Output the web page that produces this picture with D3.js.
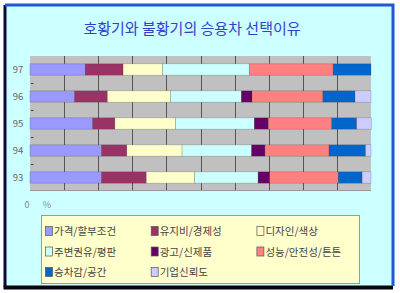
<!DOCTYPE html>
<meta charset="utf-8">
<head>
  <title>호황기와 불황기의 승용차 선택이유</title>
</head>
<body>
<style>
  html, body {
    margin: 0;
    padding: 0;
    background: #fff;
  }
  * {
    font-family: "Noto Sans CJK KR", "Noto Sans", sans-serif;
  }
  .title {
    fill: #3340cc;
    font-size: 15px;
  }
  .ylab {
    fill: #666;
    font-size: 9.5px;
  }
  .xlab {
    fill: #888;
    font-size: 9px;
  }
  .legend-text {
    fill: #444;
    font-size: 10.5px;
  }
  .grid line {
    stroke: #555;
    stroke-width: 1px;
  }
</style>
<div class="chart"></div>
<script src="https://cdn.jsdelivr.net/npm/d3@7"></script>
<script>

// categories (top to bottom) and series
var years = ["97", "96", "95", "94", "93"];
var reasons = ["가격/할부조건", "유지비/경제성", "디자인/색상", "주변권유/평판",
               "광고/신제품", "성능/안전성/튼튼", "승차감/공간", "기업신뢰도"];
var colors = ["#9999ff", "#993366", "#ffffcc", "#ccffff",
              "#660066", "#ff8080", "#0066cc", "#ccccff"];

// shares in %, one array per year, in the order of reasons
var y97 = [16.2, 11.1, 11.6, 25.4, 0.0, 24.6, 11.1, 0.0];
var y96 = [13.1, 9.6, 18.5, 20.8, 3.1, 20.8, 9.4, 4.7];
var y95 = [18.4, 6.5, 17.8, 23.1, 4.1, 18.6, 7.3, 4.3];
var y94 = [21.0, 7.4, 16.2, 20.4, 3.9, 18.8, 10.7, 1.6];
var y93 = [21.0, 13.1, 14.2, 18.6, 3.4, 20.1, 7.0, 2.6];

var xTickLabels = ["0", "%"];

var valuesByYear = {"97": y97, "96": y96, "95": y95, "94": y94, "93": y93};

var width = 400, height = 293;

var svg = d3.select(".chart").append("svg")
    .attr("width", width)
    .attr("height", height);

// frame with shadow-like border
svg.append("rect")
    .attr("x", 5).attr("y", 5)
    .attr("width", 388).attr("height", 282)
    .attr("fill", "#ccffff");
svg.append("path")
    .attr("d", "M5,287 L5,5")
    .attr("stroke", "#0a0a3a").attr("stroke-width", 3).attr("fill", "none");
svg.append("path")
    .attr("d", "M3.5,287.5 L393,287.5")
    .attr("stroke", "#050510").attr("stroke-width", 4).attr("fill", "none");
svg.append("path")
    .attr("d", "M5,5 L393,5 L393,286")
    .attr("stroke", "#1f57d6").attr("stroke-width", 3).attr("fill", "none");

svg.append("text")
    .attr("class", "title")
    .attr("x", 192)
    .attr("y", 34)
    .attr("text-anchor", "middle")
    .text("호황기와 불황기의 승용차 선택이유");

var x = d3.scaleLinear()
    .domain([0, 100])
    .range([30, 371]);

var y = d3.scaleBand()
    .domain(years)
    .range([56, 191])
    .paddingInner(0.58)
    .paddingOuter(0.29);

// plot background
svg.append("rect")
    .attr("x", x(0)).attr("y", 56)
    .attr("width", x(100) - x(0)).attr("height", 135)
    .attr("fill", "#c0c0c0");

svg.append("g")
    .attr("class", "grid")
  .selectAll("line")
    .data(d3.range(10, 100, 10))
  .enter().append("line")
    .attr("x1", function(d) { return Math.round(x(d)) + 0.5; })
    .attr("x2", function(d) { return Math.round(x(d)) + 0.5; })
    .attr("y1", 56).attr("y2", 191);

svg.append("line")
    .attr("x1", x(0)).attr("x2", x(100))
    .attr("y1", 190.5).attr("y2", 190.5)
    .attr("stroke", "#999");

// stacked bars
var rows = years.map(function(yr) {
  var r = {year: yr};
  reasons.forEach(function(k, i) { r[k] = valuesByYear[yr][i]; });
  return r;
});

var series = d3.stack().keys(reasons)(rows);

svg.append("g")
  .selectAll("g")
    .data(series)
  .enter().append("g")
    .attr("fill", function(d, i) { return colors[i]; })
  .selectAll("rect")
    .data(function(d) { return d; })
  .enter().append("rect")
    .attr("x", function(d) { return x(d[0]); })
    .attr("y", function(d) { return y(d.data.year); })
    .attr("width", function(d) { return x(d[1]) - x(d[0]); })
    .attr("height", y.bandwidth())
    .attr("stroke", "#333")
    .attr("stroke-opacity", function(d) { return d[1] - d[0] > 0 ? 0.35 : 0; })
    .attr("stroke-width", 0.6);

// y labels
svg.append("g")
  .selectAll("text")
    .data(years)
  .enter().append("text")
    .attr("class", "ylab")
    .attr("x", 18)
    .attr("y", function(d) { return y(d) + y.bandwidth() / 2 + 3.5; })
    .attr("text-anchor", "middle")
    .text(function(d) { return d; });

// small ticks between categories
svg.append("g")
  .selectAll("line")
    .data(years.slice(1))
  .enter().append("line")
    .attr("x1", 31).attr("x2", 33.5)
    .attr("y1", function(d) { return Math.round(y(d) - y.step() * 0.29) + 0.5; })
    .attr("y2", function(d) { return Math.round(y(d) - y.step() * 0.29) + 0.5; })
    .attr("stroke", "#444");

// broken x-axis labels
svg.append("g")
  .selectAll("text")
    .data(xTickLabels)
  .enter().append("text")
    .attr("class", "xlab")
    .attr("x", function(d, i) { return i === 0 ? 27 : 47; })
    .attr("y", 208)
    .attr("text-anchor", "middle")
    .text(function(d) { return d; });

// legend
var legend = svg.append("g");

legend.append("rect")
    .attr("x", 41.5).attr("y", 215.5)
    .attr("width", 318).attr("height", 68)
    .attr("fill", "#ffffcc")
    .attr("stroke", "#999");

var item = legend.selectAll("g")
    .data(reasons)
  .enter().append("g")
    .attr("transform", function(d, i) {
      return "translate(" + (45.5 + (i % 3) * 105.7) + "," + (231 + Math.floor(i / 3) * 20.5) + ")";
    });

item.append("rect")
    .attr("x", 0).attr("y", -4.5)
    .attr("width", 7).attr("height", 9)
    .attr("fill", function(d, i) { return colors[i]; })
    .attr("stroke", "#555")
    .attr("stroke-width", 0.7);

item.append("text")
    .attr("class", "legend-text")
    .attr("x", 8.5)
    .attr("y", 4)
    .text(function(d) { return d; });

</script>
</body>
